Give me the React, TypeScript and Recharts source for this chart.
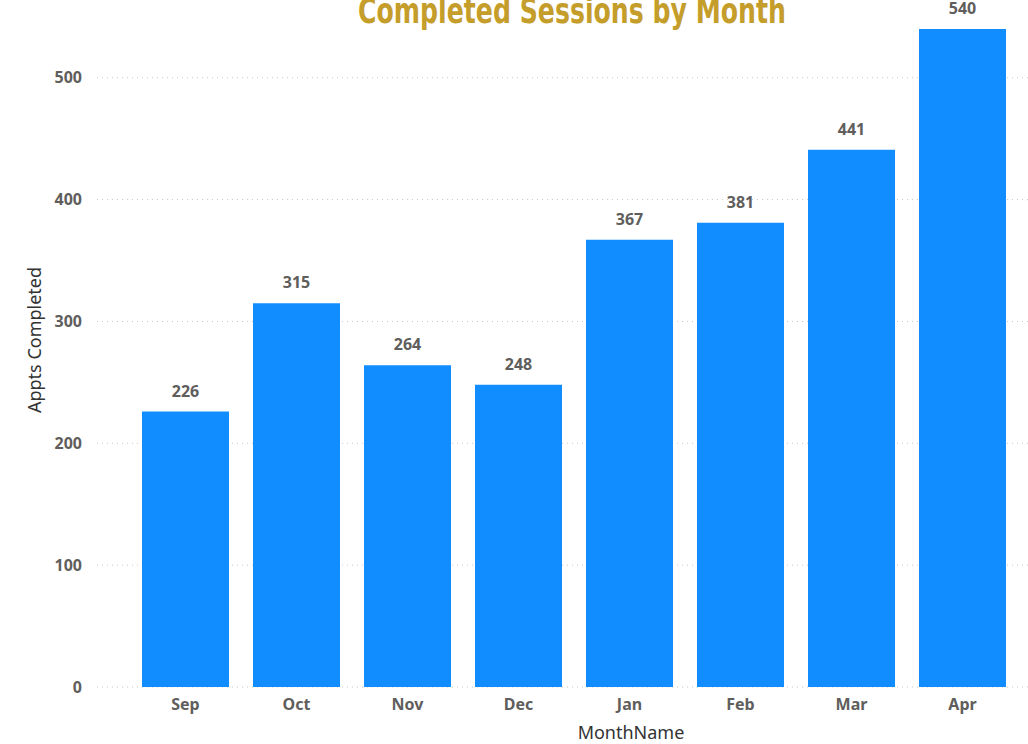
import React from 'react';
import { BarChart, Bar, XAxis, YAxis, CartesianGrid, LabelList } from 'recharts';

const months = ['Sep', 'Oct', 'Nov', 'Dec', 'Jan', 'Feb', 'Mar', 'Apr'];
const apptsCompleted = [226, 315, 264, 248, 367, 381, 441, 540];
const yTicks = [0, 100, 200, 300, 400, 500];

const data = months.map((m, i) => ({ month: m, appts: apptsCompleted[i] }));

const tickStyle = { fill: '#605E5C', fontFamily: 'Noto Sans, sans-serif', fontWeight: 700, fontSize: 16 };

export default function App() {
  return (
    <div style={{ position: 'absolute', left: 0, top: 0, width: 1028, height: 744, background: '#fff', overflow: 'hidden' }}>
      <svg width={1028} height={40} style={{ position: 'absolute', left: 0, top: 0 }}>
        <text
          x={572}
          y={23}
          textAnchor="middle"
          textLength={428}
          lengthAdjust="spacingAndGlyphs"
          fill="#C49D2A"
          fontFamily="DejaVu Sans Condensed, DejaVu Sans, sans-serif"
          fontWeight={700}
          fontSize={36}
        >
          Completed Sessions by Month
        </text>
      </svg>
      <BarChart width={1028} height={744} data={data} margin={{ top: 29, right: 0, left: 0, bottom: 0 }}>
        <CartesianGrid vertical={false} horizontalValues={yTicks} stroke="#C8C8C8" strokeDasharray="1 4" />
        <XAxis
          dataKey="month"
          height={57}
          axisLine={false}
          tickLine={false}
          tickSize={0}
          tickMargin={12}
          padding={{ left: 33, right: 10 }}
          tick={tickStyle}
          label={{
            content: () => (
              <text x={631} y={732} textAnchor="middle" dominantBaseline="central" fill="#333" fontFamily="Noto Sans, sans-serif" fontSize={18}>
                MonthName
              </text>
            ),
          }}
        />
        <YAxis
          width={97}
          domain={[0, 540]}
          ticks={yTicks}
          axisLine={false}
          tickLine={false}
          tickSize={0}
          tickMargin={15}
          tick={tickStyle}
          label={{
            content: () => (
              <text x={34} y={340} transform="rotate(-90 34 340)" textAnchor="middle" dominantBaseline="central" fill="#333" fontFamily="Noto Sans, sans-serif" fontSize={18}>
                Appts Completed
              </text>
            ),
          }}
        />
        <Bar dataKey="appts" fill="#118DFF" barSize={87} isAnimationActive={false}>
          <LabelList dataKey="appts" position="top" offset={15} style={tickStyle} />
        </Bar>
      </BarChart>
    </div>
  );
}
